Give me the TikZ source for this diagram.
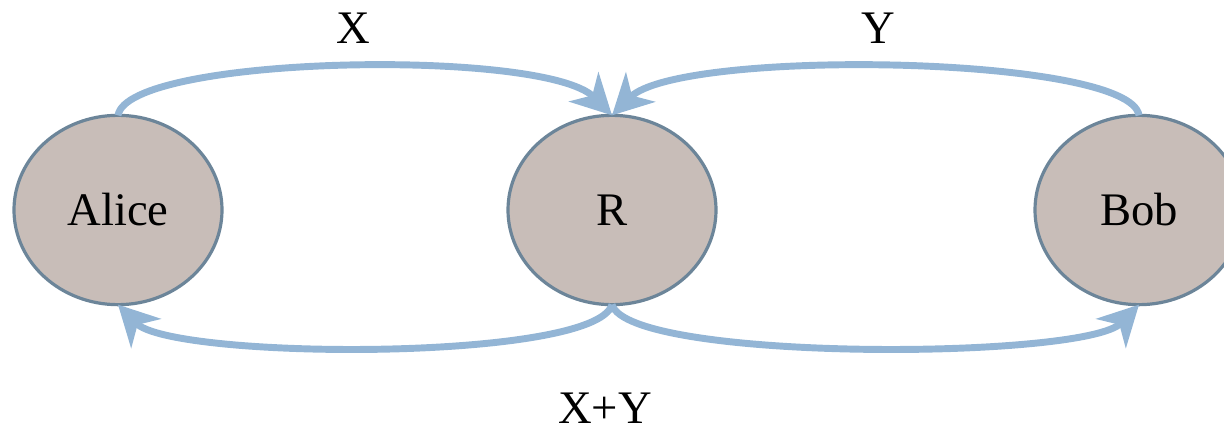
\documentclass[tikz,border=0pt]{standalone}
\usepackage{fontspec}
\setmainfont{Liberation Serif}
\usetikzlibrary{arrows.meta,shapes.geometric}
\definecolor{arrowblue}{HTML}{93B5D5}
\definecolor{nodeborder}{HTML}{6C8599}
\definecolor{nodefill}{HTML}{C8BDB8}
\tikzset{
  party/.style={ellipse, draw=nodeborder, fill=nodefill, line width=2.4pt,
    minimum width=156pt, minimum height=142pt, inner sep=0pt, outer sep=0pt,
    font=\fontsize{35}{42}\selectfont},
  flow/.style={draw=arrowblue, line width=5.2pt,
    -{Stealth[length=30pt, width=31pt, inset=9pt]}},
  lbl/.style={font=\fontsize{35}{42}\selectfont, inner sep=0pt}
}
\begin{document}
\begin{tikzpicture}[x=0.75pt, y=-0.75pt]
\useasboundingbox (0,0) rectangle (1224,431);
\clip (0,0) rectangle (1224,431);
\node[party] (A) at (118,210) {Alice};
\node[party] (R) at (612,210) {R};
\node[party] (B) at (1139,210) {Bob};
\node[lbl] (lx) at (353,28) {X};
\node[lbl] (ly) at (878,28) {Y};
\node[lbl] (lxy) at (605,408) {X+Y};
\draw[flow] (A.north) .. controls (128,55) and (545,48) .. (R.north);
\draw[flow] (B.north) .. controls (1130,55) and (680,48) .. (R.north);
\draw[flow] (R.south) .. controls (595,362) and (172,360) .. (A.south);
\draw[flow] (R.south) .. controls (629,362) and (1085,360) .. (B.south);
\end{tikzpicture}
\end{document}
